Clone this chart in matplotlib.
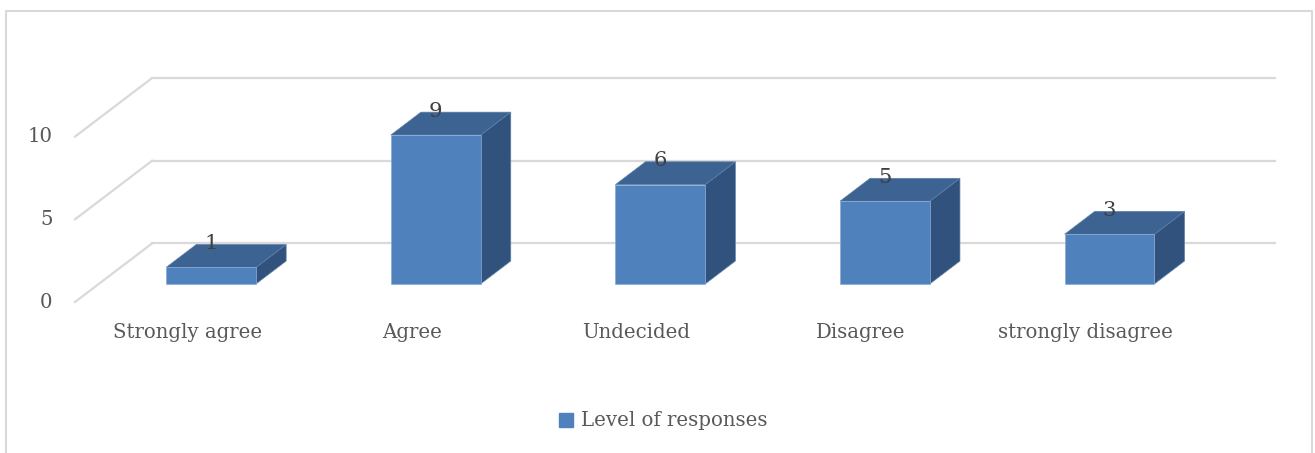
import matplotlib
matplotlib.use('Agg')
import matplotlib.pyplot as plt
from matplotlib.patches import Polygon, Patch
from matplotlib.lines import Line2D

# chart data
categories = ['Strongly agree', 'Agree', 'Undecided', 'Disagree', 'strongly disagree']
responses = [1, 9, 6, 5, 3]
y_ticks = [0, 5, 10]
series_name = 'Level of responses'

# oblique "3D" look like the Excel column chart
DX = 0.343   # depth shift in category units
DY = 3.54    # depth shift in value units
D0, D1 = 0.31, 0.70   # depth range of the bars
BAR_W = 0.40

FRONT = '#4F81BD'
TOP = '#3C6391'
SIDE = '#30527D'
GRID = '#D9D9D9'
TXT = '#595959'
FONT = 'DejaVu Serif'
FS = 14.2

fig = plt.figure(figsize=(13.15, 4.53), dpi=100)
ax = fig.add_axes([0, 0, 1, 1])
ax.set_xlim(-0.334, 5.521)
ax.set_ylim(-9.13, 18.26)
ax.axis('off')

n = len(categories)

# gridlines: back wall + left side wall
for g in y_ticks:
    ax.plot([DX, n + DX], [g + DY, g + DY], color=GRID, lw=1.6, zorder=1)
    ax.plot([0, DX], [g, g + DY], color=GRID, lw=1.6, zorder=1)
    ax.text(-0.1, g, str(g), ha='right', va='center', fontsize=FS,
            color=TXT, family=FONT)

# bars
for i, v in enumerate(responses):
    xl = i + (1 - BAR_W) / 2
    xr = xl + BAR_W
    front = [(xl + D0 * DX, D0 * DY), (xr + D0 * DX, D0 * DY),
             (xr + D0 * DX, v + D0 * DY), (xl + D0 * DX, v + D0 * DY)]
    top = [(xl + D0 * DX, v + D0 * DY), (xr + D0 * DX, v + D0 * DY),
           (xr + D1 * DX, v + D1 * DY), (xl + D1 * DX, v + D1 * DY)]
    side = [(xr + D0 * DX, D0 * DY), (xr + D1 * DX, D1 * DY),
            (xr + D1 * DX, v + D1 * DY), (xr + D0 * DX, v + D0 * DY)]
    ax.add_patch(Polygon(side, closed=True, fc=SIDE, ec='#5B7FA8', lw=0.5, zorder=2))
    ax.add_patch(Polygon(top, closed=True, fc=TOP, ec='#5B7FA8', lw=0.5, zorder=2))
    ax.add_patch(Polygon(front, closed=True, fc=FRONT, ec='#8EAAD3', lw=0.5, zorder=3))
    # data label
    ax.text(i + 0.5 + D0 * DX, v + D1 * DY + 0.05, str(v), ha='center', va='center',
            fontsize=FS + 1, color='#404040', family=FONT, zorder=4)
    # category label
    ax.text(i + 0.5, -1.87, categories[i], ha='center', va='center',
            fontsize=FS, color=TXT, family=FONT)

# legend
leg = ax.legend(handles=[Patch(facecolor=FRONT, edgecolor=FRONT, label=series_name)],
                loc='center', bbox_to_anchor=(663 / 1315, 1 - 421 / 453),
                bbox_transform=fig.transFigure, frameon=False,
                handlelength=0.7, handleheight=0.7, handletextpad=0.4,
                prop={'family': FONT, 'size': FS})
for t in leg.get_texts():
    t.set_color(TXT)

# chart area border
W, H = 1315, 453
bx0, bx1 = 6 / W, 1312 / W
by1 = 1 - 11 / H
fig.add_artist(Line2D([bx0, bx0, bx1, bx1], [-0.01, by1, by1, -0.01],
                      transform=fig.transFigure, color=GRID, lw=1.5))

fig.savefig('out.png', dpi=100)
